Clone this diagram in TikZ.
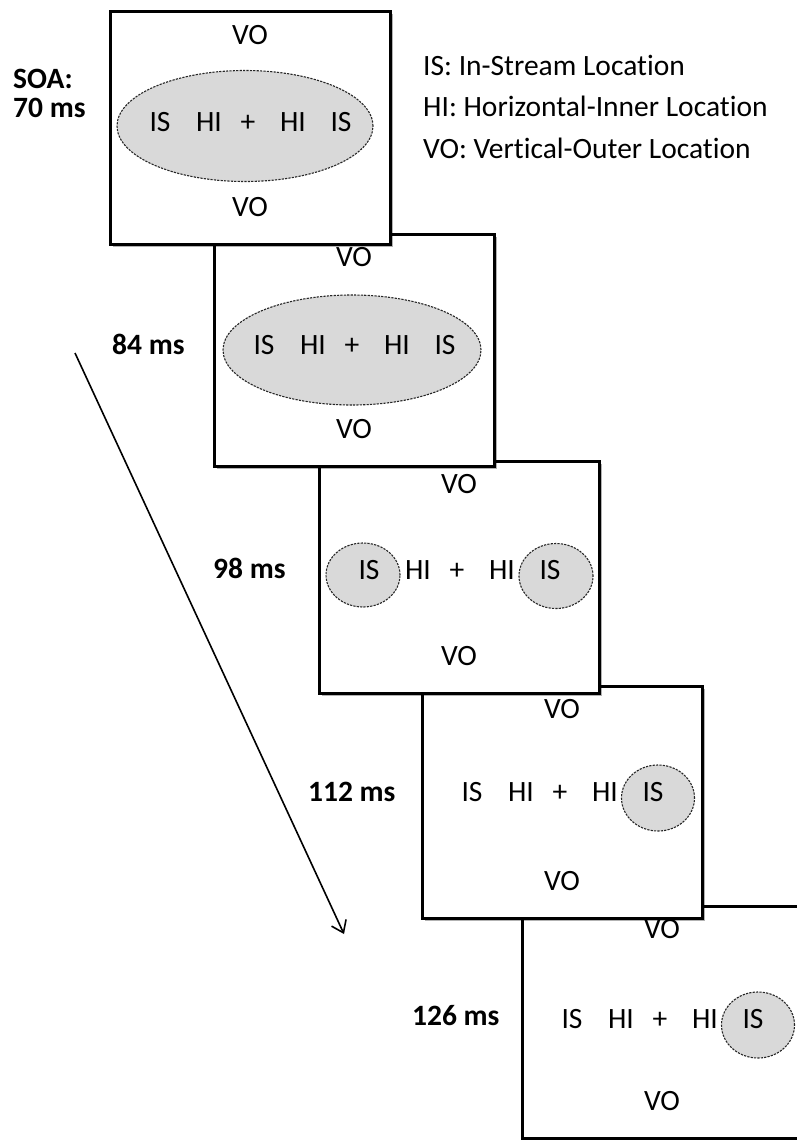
\documentclass[tikz,border=0pt]{standalone}
\usepackage{fontspec}
\setmainfont{Carlito}[Ligatures=NoCommon]
\usetikzlibrary{shapes.geometric,shadows,arrows.meta}

\tikzset{
  panelbox/.style={draw=black, line width=3pt, fill=white,
    minimum width=280pt, minimum height=232pt, inner sep=0pt,
    drop shadow={shadow xshift=2.5pt, shadow yshift=-2.5pt, opacity=0.3, fill=black}},
  tok/.style={inner sep=0pt, text height=0.644em, text depth=0pt, font=\fontsize{29.5}{33}\selectfont},
  soa/.style={tok, anchor=west, font=\fontsize{29.5}{33}\selectfont\bfseries},
  legend/.style={tok, anchor=west},
  spot/.style={ellipse, draw=black!85, dash pattern=on 2.2pt off 1.2pt, line width=1.1pt,
    fill=black!15, inner sep=0pt},
  timeline/.style={line width=1.6pt, -{Straight Barb[length=11pt, width=16pt, line width=1.6pt]}}
}

% one display: #1 name, #2 left edge, #3 top edge, #4 row of letters, #5 highlighted regions
\newcommand\panel[5]{%
  \node[panelbox] (#1) at (#2+140, #3+116) {};
  #5
  \node[tok] (#1-vt) at (#2+140, #3+29) {VO};
  \node[tok] (#1-vb) at (#2+140, #3+201) {VO};
  \node[tok] (#1-isl) at (#2+50, #4) {IS};
  \node[tok] (#1-hil) at (#2+99, #4) {HI};
  \node[tok] (#1-fix) at (#2+138, #4) {+};
  \node[tok] (#1-hir) at (#2+183, #4) {HI};
  \node[tok] (#1-isr) at (#2+231, #4) {IS};
}

\begin{document}
\begin{tikzpicture}[x=1pt, y=-1pt]
  \useasboundingbox (0,0) rectangle (797,1140);
  \clip (0,0) rectangle (797,1140);
  \fill[white] (0,0) rectangle (797,1140);

  % displays, drawn back to front
  \panel{p5}{522}{906}{1025}{%
    \node[spot, minimum width=73pt, minimum height=66pt] (p5-e) at (758,1025) {};}
  \panel{p4}{422}{686}{798}{%
    \node[spot, minimum width=73pt, minimum height=66pt] (p4-e) at (658,798) {};}
  \panel{p3}{319}{461}{576}{%
    \node[spot, minimum width=74pt, minimum height=64pt] (p3-el) at (363,575) {};
    \node[spot, minimum width=74pt, minimum height=65pt] (p3-er) at (556,576) {};}
  \panel{p2}{214}{234}{351}{%
    \node[spot, minimum width=258pt, minimum height=110pt] (p2-e) at (352,350) {};}
  \panel{p1}{110}{12}{128}{%
    \node[spot, minimum width=256pt, minimum height=111pt] (p1-e) at (245,126) {};}

  % SOA labels
  \node[soa] (soa) at (13,85) {SOA:};
  \node[soa] (t70) at (13,114) {70 ms};
  \node[soa] (t84) at (112,351) {84 ms};
  \node[soa] (t98) at (213,575) {98 ms};
  \node[soa] (t112) at (308,798) {112 ms};
  \node[soa] (t126) at (412,1022) {126 ms};

  % legend
  \node[legend] (lg1) at (423,72) {IS: In-Stream Location};
  \node[legend] (lg2) at (423,113) {HI: Horizontal-Inner Location};
  \node[legend] (lg3) at (423,155) {VO: Vertical-Outer Location};

  % time arrow
  \coordinate (tstart) at (75,353);
  \coordinate (tend) at (344,934);
  \draw[timeline] (tstart) -- (tend);
\end{tikzpicture}
\end{document}
